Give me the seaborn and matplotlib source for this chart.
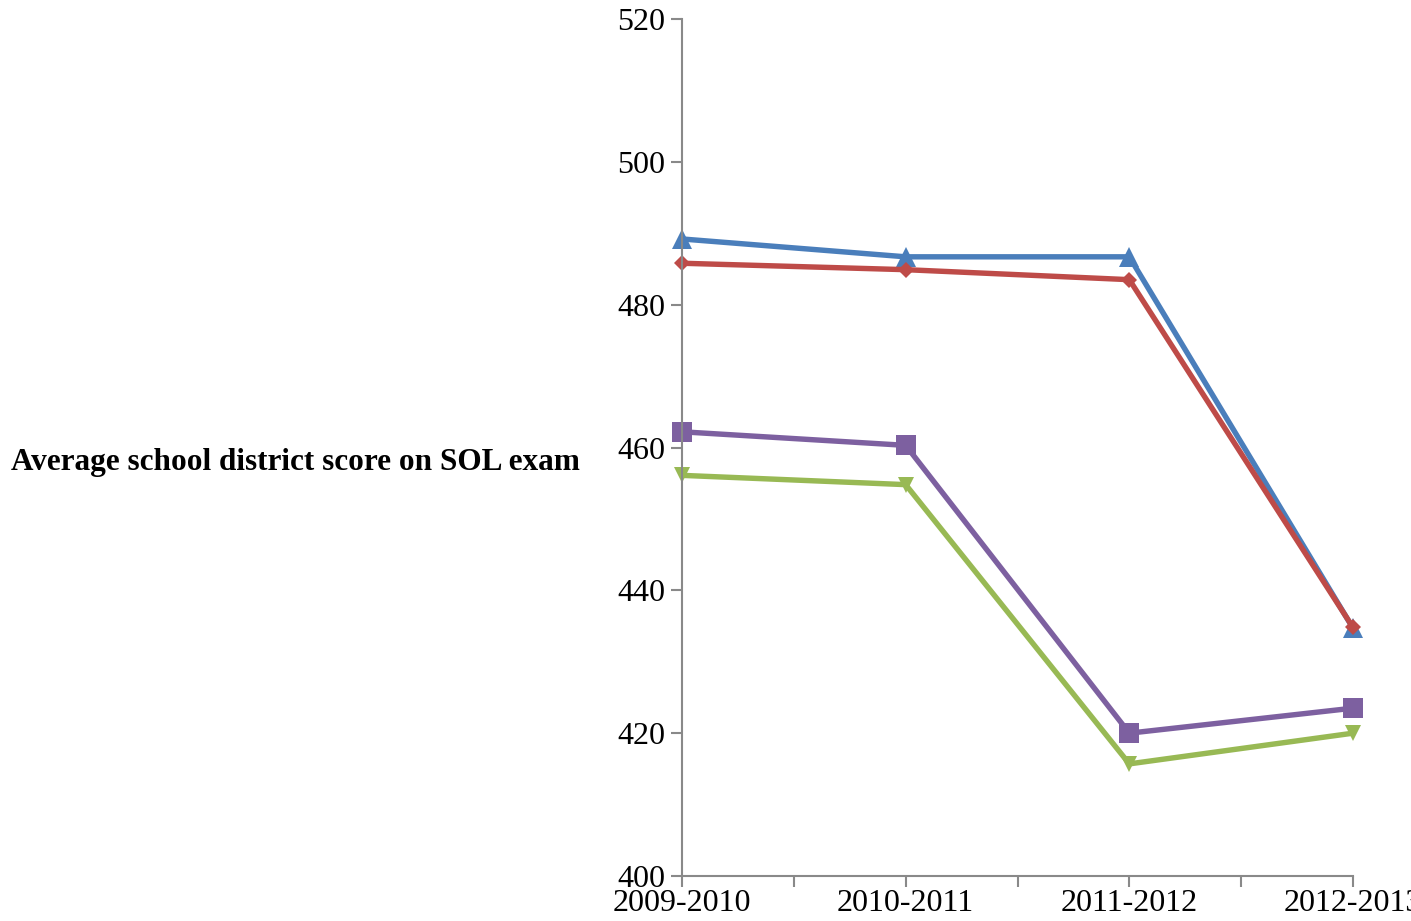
import numpy as np
import pandas as pd
import matplotlib
matplotlib.use('Agg')
import matplotlib.pyplot as plt
from matplotlib.ticker import MultipleLocator
import seaborn as sns

# Veriler
years = ['2009-2010', '2010-2011', '2011-2012', '2012-2013']
series_1 = [489.2, 486.7, 486.7, 434.7]   # mavi, üçgen
series_2 = [485.8, 484.9, 483.5, 434.8]   # kırmızı, elmas
series_3 = [456.1, 454.8, 415.7, 420.0]   # yeşil, ters üçgen
series_4 = [462.2, 460.3, 420.0, 423.5]   # mor, kare

ylabel = 'Average school district score on SOL exam'

sns.set_theme(style='white')
plt.rcParams['font.family'] = ['Liberation Serif', 'DejaVu Serif']

fig = plt.figure(figsize=(14.11, 9.21), dpi=100)
ax = fig.add_axes([682 / 1411, 1 - 876 / 921, (1353 - 682) / 1411, (876 - 19) / 921])

x_pos = np.arange(len(years))
styles = [
    (series_1, '#4A7EBB', '^', 15),
    (series_2, '#BE4B48', 'D', 8),
    (series_3, '#98B954', 'v', 11),
    (series_4, '#7D60A0', 's', 14),
]
for values, color, marker, msize in styles:
    df = pd.DataFrame({'x': x_pos, 'y': values})
    sns.lineplot(data=df, x='x', y='y', ax=ax, color=color, linewidth=3.9,
                 marker=marker, markersize=msize, markeredgewidth=0,
                 clip_on=False)

ax.set_xlim(0, 3)
ax.set_ylim(400, 520)
ax.yaxis.set_major_locator(MultipleLocator(20))
ax.set_xticks(x_pos)
ax.set_xticklabels(years)
ax.xaxis.set_minor_locator(MultipleLocator(0.5))

axis_gray = '#898989'
for side in ['top', 'right']:
    ax.spines[side].set_visible(False)
for side in ['left', 'bottom']:
    ax.spines[side].set_color(axis_gray)
    ax.spines[side].set_linewidth(1.5)

ax.tick_params(axis='both', which='both', direction='out', length=8, width=1.5,
               color=axis_gray, labelsize=23, labelcolor='black',
               bottom=True, left=True)
ax.tick_params(axis='y', pad=4)
ax.tick_params(axis='x', pad=1)

ax.set_xlabel('')
ax.set_ylabel(ylabel, rotation=0, fontsize=22.5, fontweight='bold', color='black',
              ha='right', va='center')
ax.yaxis.set_label_coords(-0.152, 0.483)

plt.savefig('out.png', dpi=100)
plt.close()
